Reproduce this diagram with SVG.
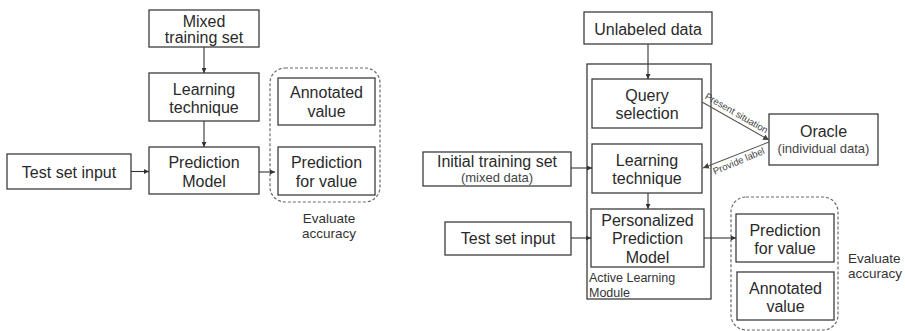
<svg xmlns="http://www.w3.org/2000/svg" width="905" height="331" viewBox="0 0 905 331">
<style>
  .box { fill: #ffffff; stroke: #3c3c3c; stroke-width: 1.3; }
  .grp { fill: none; stroke: #6a6a6a; stroke-width: 1.2; stroke-dasharray: 3 2; }
  .t { font-family: "Liberation Sans", Arial, sans-serif; font-size: 16px; fill: #2a2a2a; text-anchor: middle; }
  .s { font-family: "Liberation Sans", Arial, sans-serif; font-size: 12.5px; fill: #444; text-anchor: middle; }
  .ev { font-family: "Liberation Sans", Arial, sans-serif; font-size: 13.5px; fill: #333; }
  .lbl { font-family: "Liberation Sans", Arial, sans-serif; font-size: 9.5px; fill: #444; text-anchor: middle; }
  .c { fill: none; stroke: #333; stroke-width: 1.1; marker-end: url(#ah); }
  .cg { fill: none; stroke: #555; stroke-width: 1.1; marker-end: url(#ahg); }
</style>
<defs>
  <marker id="ah" viewBox="0 0 10 10" refX="10" refY="5" markerWidth="5" markerHeight="5" markerUnits="userSpaceOnUse" orient="auto">
    <path d="M0,0 L10,5 L0,10 z" fill="#333"/>
  </marker>
  <marker id="ahg" viewBox="0 0 10 10" refX="10" refY="5" markerWidth="6" markerHeight="6" markerUnits="userSpaceOnUse" orient="auto">
    <path d="M0,0 L10,5 L0,10 z" fill="#444"/>
  </marker>
</defs>
<rect width="905" height="331" fill="#ffffff"/>

<!-- Left diagram -->
<g id="mixed-training-set">
  <rect class="box" x="149" y="10" width="110" height="37"/>
  <text class="t" x="204" y="27">Mixed</text>
  <text class="t" x="204" y="42.5">training set</text>
</g>
<g id="learning-technique-left">
  <rect class="box" x="149" y="73" width="110" height="48"/>
  <text class="t" x="204" y="94.5">Learning</text>
  <text class="t" x="204" y="112.5">technique</text>
</g>
<g id="prediction-model">
  <rect class="box" x="149" y="147" width="110" height="47"/>
  <text class="t" x="204" y="168">Prediction</text>
  <text class="t" x="204" y="187">Model</text>
</g>
<g id="test-set-input-left">
  <rect class="box" x="7" y="154" width="124" height="35"/>
  <text class="t" x="69" y="177.5">Test set input</text>
</g>
<g id="evaluate-left">
  <rect class="grp" x="270" y="68" width="110" height="134" rx="15" ry="15"/>
  <text class="ev" x="329" y="223" text-anchor="middle">Evaluate</text>
  <text class="ev" x="329" y="238" text-anchor="middle">accuracy</text>
</g>
<g id="annotated-value-left">
  <rect class="box" x="278" y="78" width="97" height="47"/>
  <text class="t" x="326.5" y="98">Annotated</text>
  <text class="t" x="326.5" y="117">value</text>
</g>
<g id="prediction-for-value-left">
  <rect class="box" x="278" y="147" width="97" height="48"/>
  <text class="t" x="326.5" y="167.5">Prediction</text>
  <text class="t" x="326.5" y="186.5">for value</text>
</g>

<!-- Right diagram -->
<g id="active-learning-module">
  <rect class="box" x="587" y="64" width="124" height="235"/>
  <text class="s" x="589" y="282" style="text-anchor:start;fill:#333">Active Learning</text>
  <text class="s" x="589" y="296.5" style="text-anchor:start;fill:#333">Module</text>
</g>
<g id="unlabeled-data">
  <rect class="box" x="584" y="12" width="128" height="32"/>
  <text class="t" x="648" y="35">Unlabeled data</text>
</g>
<g id="query-selection">
  <rect class="box" x="592" y="79" width="110" height="49"/>
  <text class="t" x="647" y="101">Query</text>
  <text class="t" x="647" y="119">selection</text>
</g>
<g id="learning-technique-right">
  <rect class="box" x="592" y="144" width="110" height="49"/>
  <text class="t" x="647" y="166">Learning</text>
  <text class="t" x="647" y="184">technique</text>
</g>
<g id="personalized-prediction-model">
  <rect class="box" x="591" y="209" width="113" height="58"/>
  <text class="t" x="647.5" y="226">Personalized</text>
  <text class="t" x="647.5" y="244">Prediction</text>
  <text class="t" x="647.5" y="262.5">Model</text>
</g>
<g id="oracle">
  <rect class="box" x="769" y="114" width="109" height="51"/>
  <text class="t" x="823.5" y="137">Oracle</text>
  <text class="s" x="823.5" y="152.5" style="font-size:13px">(individual data)</text>
</g>
<g id="initial-training-set">
  <rect class="box" x="423" y="152" width="148" height="34"/>
  <text class="t" x="497" y="166.5">Initial training set</text>
  <text class="s" x="497" y="182" style="font-size:13px">(mixed data)</text>
</g>
<g id="test-set-input-right">
  <rect class="box" x="445" y="222" width="126" height="33"/>
  <text class="t" x="508" y="244">Test set input</text>
</g>
<g id="evaluate-right">
  <rect class="grp" x="731" y="197" width="107" height="133" rx="15" ry="15"/>
  <text class="ev" x="848" y="263">Evaluate</text>
  <text class="ev" x="848" y="278">accuracy</text>
</g>
<g id="prediction-for-value-right">
  <rect class="box" x="736" y="214" width="98" height="48"/>
  <text class="t" x="785" y="235.5">Prediction</text>
  <text class="t" x="785" y="253.5">for value</text>
</g>
<g id="annotated-value-right">
  <rect class="box" x="737" y="272" width="97" height="48"/>
  <text class="t" x="785.5" y="293.5">Annotated</text>
  <text class="t" x="785.5" y="311.5">value</text>
</g>

<!-- Connectors -->
<g id="connectors">
  <line class="c" x1="204" y1="47" x2="204" y2="73"/>
  <line class="c" x1="204" y1="121" x2="204" y2="147"/>
  <line class="c" x1="131" y1="171.5" x2="149" y2="171.5"/>
  <line class="c" x1="259" y1="172" x2="275" y2="172"/>

  <line class="c" x1="648" y1="44" x2="648" y2="79"/>
  <line class="c" x1="648" y1="193" x2="648" y2="209"/>
  <line class="c" x1="571" y1="168" x2="592" y2="168"/>
  <line class="c" x1="571" y1="238" x2="591" y2="238"/>
  <line class="c" x1="704" y1="238" x2="736" y2="238"/>
  <line class="cg" x1="702" y1="102" x2="769" y2="140"/>
  <line class="cg" x1="769" y1="142" x2="703" y2="168"/>
  <text class="lbl" x="735" y="116" transform="rotate(30 735 116)">Present situation</text>
  <text class="lbl" x="740" y="164" transform="rotate(-23 740 164)">Provide label</text>
</g>
</svg>
